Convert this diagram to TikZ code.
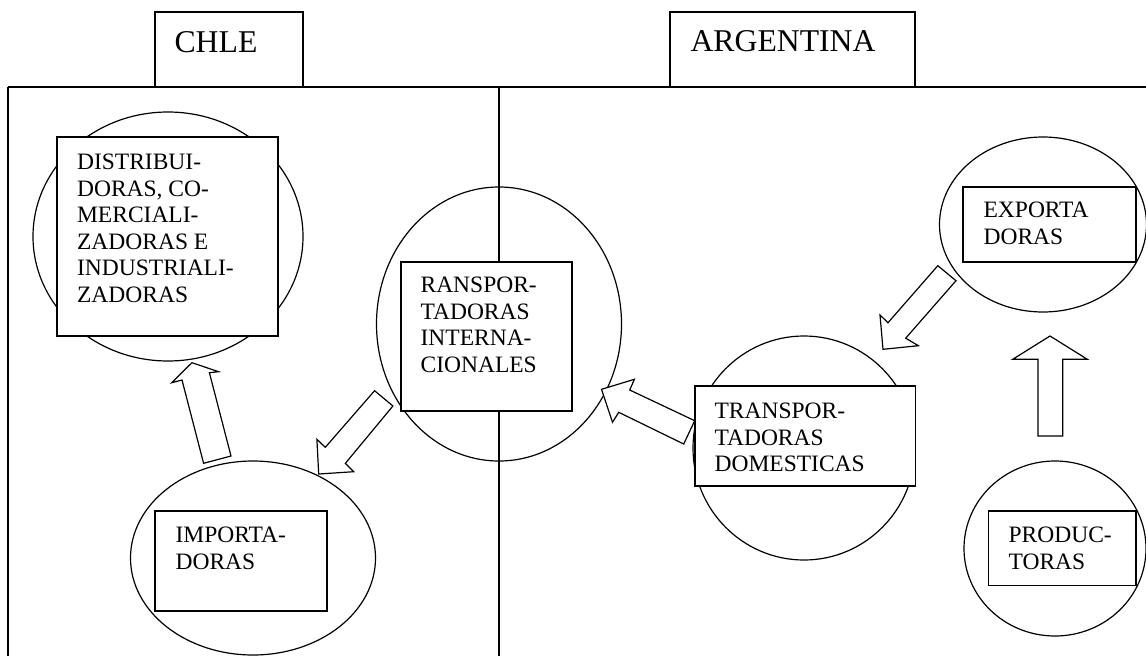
\documentclass[tikz,border=0pt]{standalone}
\usepackage{fontspec}
\setmainfont{Liberation Serif}
\usetikzlibrary{shapes.geometric}
\newcommand\bodyfnt{\fontsize{23.5}{26.6}\selectfont}
\newcommand\titlefnt{\fontsize{31.7}{36}\selectfont}
\tikzset{
  frameline/.style={line width=1.2pt},
  oval/.style={ellipse, draw, line width=1.2pt, inner sep=0pt},
  box/.style={draw, fill=white, line width=1.2pt, inner sep=0pt},
  lbl/.style={anchor=base west, inner sep=0pt, font=\bodyfnt},
  ttl/.style={anchor=base west, inner sep=0pt, font=\titlefnt},
  blockarrow/.style={draw, fill=white, line width=1.2pt, line join=miter}
}
\begin{document}
\begin{tikzpicture}[x=1pt,y=-1pt]
\useasboundingbox (0,0) rectangle (1146,656);
\clip (0,0) rectangle (1146,656);
% frame
\coordinate (ftl) at (8,87);
\coordinate (ftr) at (1146,87);
\coordinate (fbl) at (8,656);
\coordinate (dtop) at (499,87);
\coordinate (dbot) at (499,656);
\draw[frameline] (ftl) -- (ftr);
\draw[frameline] (ftl) -- (fbl);
\draw[frameline] (dtop) -- (dbot);
% title boxes
\node[box, minimum width=148pt, minimum height=75pt] (chleB) at (229,49.5) {};
\node[ttl] (chleT) at ([shift={(20,41)}]chleB.north west) {CHLE};
\node[box, minimum width=245pt, minimum height=75pt] (argB) at (792.5,49.5) {};
\node[ttl] (argT) at ([shift={(21,40)}]argB.north west) {ARGENTINA};
% ellipses
\node[oval, minimum width=270pt, minimum height=249pt] (distE) at (168,236.5) {};
\node[oval, minimum width=245pt, minimum height=274pt] (ranE) at (499,324) {};
\node[oval, minimum width=245pt, minimum height=194pt] (impE) at (253,558) {};
\node[oval, minimum width=207pt, minimum height=175pt] (expE) at (1043,224.5) {};
\node[oval, minimum width=222pt, minimum height=224pt] (domE) at (804,448) {};
\node[oval, minimum width=182pt, minimum height=175pt] (proE) at (1055,548.5) {};
% boxes
\node[box, minimum width=221pt, minimum height=199pt] (distB) at (167.5,236.5) {};
\node[lbl] (distT) at ([shift={(20.5,33)}]distB.north west) {\vtop{\hbox{DISTRIBUI-}\hbox{DORAS, CO-}\hbox{MERCIALI-}\hbox{ZADORAS E}\hbox{INDUSTRIALI-}\hbox{ZADORAS}}};
\node[box, minimum width=171pt, minimum height=149pt] (ranB) at (486.5,336.5) {};
\node[lbl] (ranT) at ([shift={(20,31)}]ranB.north west) {\vtop{\hbox{RANSPOR-}\hbox{TADORAS}\hbox{INTERNA-}\hbox{CIONALES}}};
\node[box, minimum width=172pt, minimum height=100pt] (impB) at (241,561) {};
\node[lbl] (impT) at ([shift={(21,32)}]impB.north west) {\vtop{\hbox{IMPORTA-}\hbox{DORAS}}};
\node[box, minimum width=173pt, minimum height=75pt] (expB) at (1049.5,224.5) {};
\node[lbl] (expT) at ([shift={(21,31)}]expB.north west) {\vtop{\hbox{EXPORTA}\hbox{DORAS}}};
\node[box, minimum width=220.5pt, minimum height=100pt] (domB) at (805.25,436) {};
\node[lbl] (domT) at ([shift={(20,33)}]domB.north west) {\vtop{\hbox{TRANSPOR-}\hbox{TADORAS}\hbox{DOMESTICAS}}};
\node[box, minimum width=147.4pt, minimum height=74.7pt] (proB) at (1062.3,548.35) {};
\node[lbl] (proT) at ([shift={(20.4,32)}]proB.north west) {\vtop{\hbox{PRODUC-}\hbox{TORAS}}};
% block arrows
% importadoras -> distribuidoras
\draw[blockarrow] (203.6,463.3) -- (182,380) -- (171.8,382.7) -- (191.9,362.7) -- (218.6,371.7) -- (209.4,372.7) -- (231,456) -- cycle;
% ransportadoras -> importadoras
\draw[blockarrow] (374.6,390.7) -- (325.3,447.3) -- (316.9,439.3) -- (318.7,474) -- (353.8,471.7) -- (345.4,463.3) -- (392.9,406) -- cycle;
% domesticas -> ransportadoras
\draw[blockarrow] (694.7,420.7) -- (629.7,390) -- (634.4,379.3) -- (601.5,389.3) -- (612.5,422.3) -- (618.7,412.3) -- (683.7,444) -- cycle;
% exportadoras -> domesticas
\draw[blockarrow] (937.8,265.7) -- (888,322.7) -- (880,315) -- (883,349.3) -- (918.4,345.7) -- (905.7,338.2) -- (956,280.7) -- cycle;
% productoras -> exportadoras
\draw[blockarrow] (1038,436) -- (1038,359.3) -- (1012.7,359.3) -- (1050,336) -- (1087.3,359.3) -- (1062.8,359.3) -- (1062.8,436) -- cycle;
\end{tikzpicture}
\end{document}
